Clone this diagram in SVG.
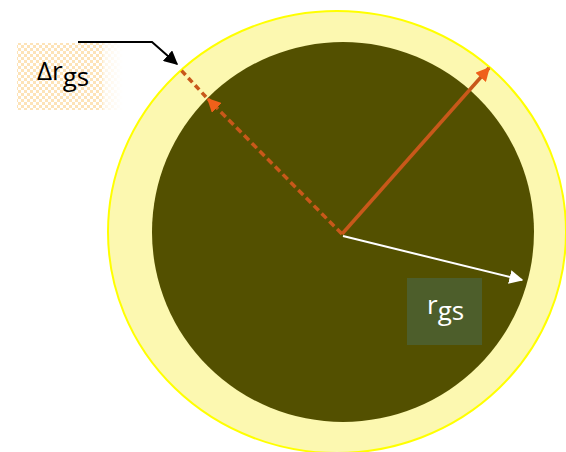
<svg xmlns="http://www.w3.org/2000/svg" width="566" height="452" viewBox="0 0 566 452">
<style>
.lbl{font-family:"Open Sans","Noto Sans","Liberation Sans",sans-serif;font-size:26px}
.orange{stroke:#c8581a;stroke-width:3.5;fill:none}
</style>
<defs>
<pattern id="chk" width="6" height="6" patternUnits="userSpaceOnUse">
<rect width="6" height="6" fill="#fff"/>
<rect x="0" y="0" width="3" height="3" fill="#fde3b8"/>
<rect x="3" y="3" width="3" height="3" fill="#fde3b8"/>
</pattern>
<linearGradient id="fade" x1="0" x2="1" y1="0" y2="0">
<stop offset="0.8" stop-color="#fff" stop-opacity="1"/>
<stop offset="0.82" stop-color="#fff" stop-opacity="0.35"/>
<stop offset="1" stop-color="#fff" stop-opacity="0"/>
</linearGradient>
<mask id="fm"><rect x="17" y="43" width="106" height="67" fill="url(#fade)"/></mask>
<marker id="ao" viewBox="0 0 10 10" refX="9" refY="5" markerWidth="4" markerHeight="4" orient="auto" markerUnits="strokeWidth">
<path d="M0,0 L10,5 L0,10 z" fill="#f0601a"/>
</marker>
<marker id="aw" viewBox="0 0 10 10" refX="9" refY="5" markerWidth="7" markerHeight="7" orient="auto" markerUnits="strokeWidth">
<path d="M0,0 L10,5 L0,10 z" fill="#fff"/>
</marker>
<marker id="ab" viewBox="0 0 10 10" refX="9" refY="5" markerWidth="7" markerHeight="7" orient="auto" markerUnits="strokeWidth">
<path d="M0,0 L10,5 L0,10 z" fill="#000"/>
</marker>
</defs>
<rect width="566" height="452" fill="#fff"/>
<g id="outer-circle">
<ellipse cx="337" cy="232" rx="229" ry="221" fill="#fcf8b0" stroke="#ffff00" stroke-width="2"/>
</g>
<g id="inner-circle">
<ellipse cx="343" cy="232" rx="191" ry="190" fill="#535000"/>
</g>
<g id="delta-label">
<rect x="17" y="43" width="106" height="67" fill="url(#chk)" mask="url(#fm)"/>
<text class="lbl" x="37" y="80" fill="#000">Δr<tspan dy="6">gs</tspan></text>
</g>
<g id="rgs-label">
<rect x="407" y="278" width="75" height="67" fill="#4d5e2b"/>
<text class="lbl" x="427" y="314" fill="#fff">r<tspan dy="6">gs</tspan></text>
</g>
<g id="connectors">
<line class="orange" x1="342" y1="234" x2="489" y2="68" marker-end="url(#ao)"/>
<line class="orange" x1="342" y1="234" x2="208" y2="99" stroke-dasharray="7,4" marker-end="url(#ao)"/>
<line class="orange" x1="206" y1="97" x2="180" y2="69" stroke-dasharray="6,4"/>
<line x1="343" y1="236" x2="522" y2="280" stroke="#fff" stroke-width="2" marker-end="url(#aw)"/>
<polyline points="78,42 152,42 177,64" fill="none" stroke="#000" stroke-width="2" marker-end="url(#ab)"/>
</g>
</svg>
